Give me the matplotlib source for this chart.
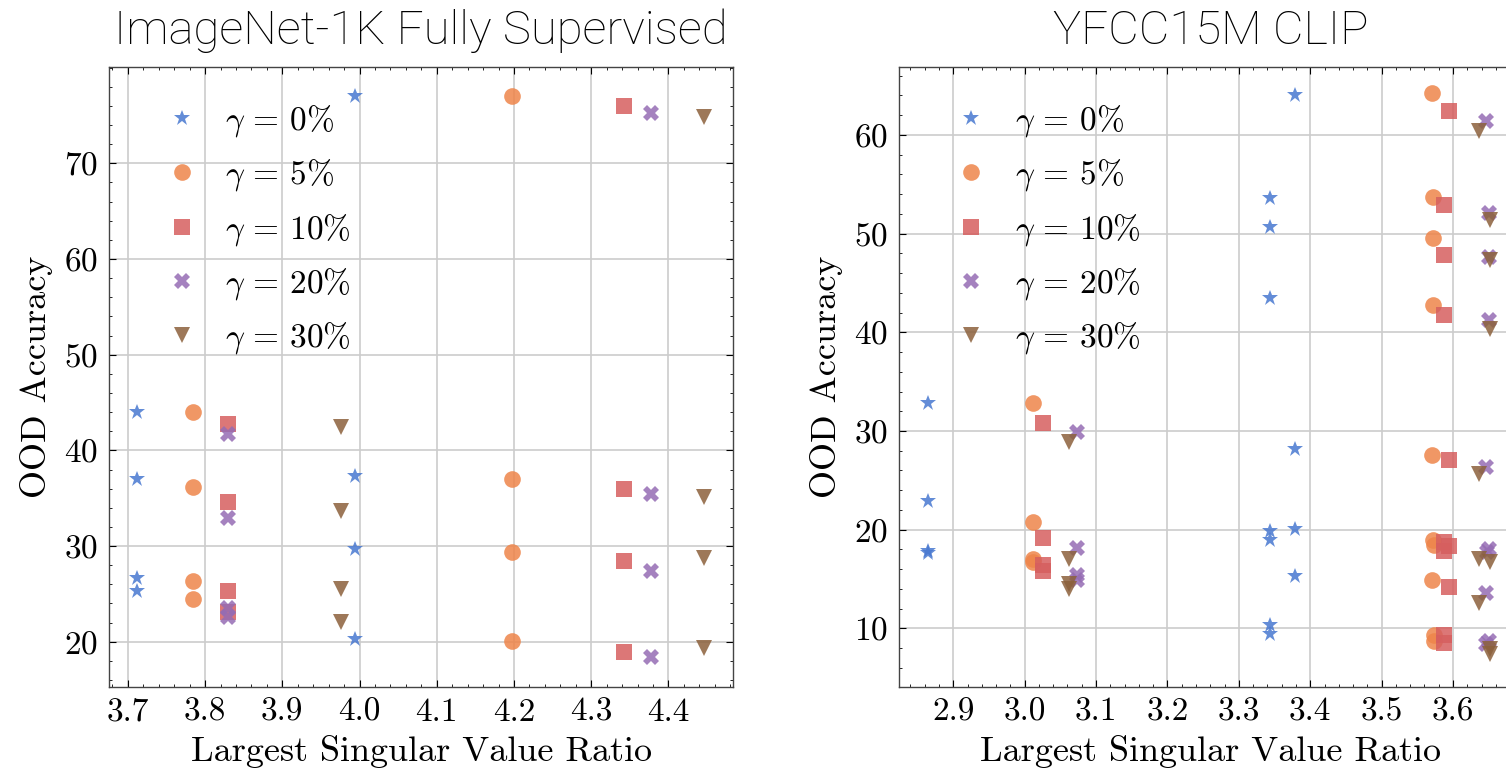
import matplotlib
matplotlib.use("Agg")
import matplotlib.pyplot as plt
from matplotlib.ticker import MultipleLocator

# ---------------- data ----------------
gammas = ["0%", "5%", "10%", "20%", "30%"]
colors = ["#4878D0", "#EE854A", "#D65F5F", "#956CB4", "#8C613C"]
markers = ["*", "o", "s", "X", "v"]

# ImageNet-1K Fully Supervised
in_x = {
    "0%":  [3.712, 3.712, 3.712, 3.712, 3.994, 3.994, 3.994, 3.994],
    "5%":  [3.785, 3.785, 3.785, 3.785, 4.197, 4.197, 4.197, 4.197],
    "10%": [3.830, 3.830, 3.830, 3.830, 4.342, 4.342, 4.342, 4.342],
    "20%": [3.830, 3.830, 3.830, 3.830, 4.378, 4.378, 4.378, 4.378],
    "30%": [3.976, 3.976, 3.976, 3.976, 4.446, 4.446, 4.446, 4.446],
}
in_y = {
    "0%":  [44.0, 37.0, 26.7, 25.3, 77.0, 37.3, 29.7, 20.3],
    "5%":  [44.0, 36.2, 26.3, 24.5, 77.0, 37.0, 29.4, 20.1],
    "10%": [42.8, 34.6, 25.3, 23.1, 76.0, 36.0, 28.4, 18.9],
    "20%": [41.7, 32.9, 23.5, 22.6, 75.3, 35.4, 27.4, 18.4],
    "30%": [42.4, 33.7, 25.5, 22.1, 74.8, 35.1, 28.7, 19.3],
}

# YFCC15M CLIP
yf_x = {
    "0%":  [2.865, 2.865, 2.865, 2.865,
            3.344, 3.344, 3.344, 3.344, 3.344, 3.344, 3.344,
            3.379, 3.379, 3.379, 3.379],
    "5%":  [3.011, 3.011, 3.011, 3.011,
            3.570, 3.572, 3.572, 3.572, 3.570, 3.572, 3.574, 3.570, 3.574, 3.574],
    "10%": [3.025, 3.025, 3.025, 3.025,
            3.594, 3.588, 3.588, 3.588, 3.594, 3.588, 3.595, 3.588, 3.594, 3.588, 3.588],
    "20%": [3.073, 3.073, 3.073, 3.073,
            3.646, 3.650, 3.650, 3.650, 3.646, 3.650, 3.648, 3.646, 3.650, 3.646],
    "30%": [3.062, 3.062, 3.062, 3.062,
            3.637, 3.652, 3.652, 3.652, 3.637, 3.637, 3.652, 3.637, 3.652, 3.652],
}
yf_y = {
    "0%":  [32.8, 22.9, 17.8, 17.6,
            53.6, 50.7, 43.5, 19.9, 19.0, 10.4, 9.4,
            64.0, 28.2, 20.1, 15.3],
    "5%":  [32.8, 20.8, 17.0, 16.7,
            64.2, 53.7, 49.5, 42.8, 27.6, 19.0, 18.5, 14.9, 9.3, 8.7],
    "10%": [30.8, 19.2, 16.4, 15.8,
            62.4, 52.9, 47.8, 41.7, 27.1, 18.8, 18.4, 17.8, 14.2, 9.3, 8.5],
    "20%": [29.9, 18.1, 15.4, 14.9,
            61.4, 52.1, 47.6, 41.2, 26.4, 18.0, 17.7, 13.6, 8.7, 8.4],
    "30%": [28.9, 17.0, 14.5, 14.0,
            60.4, 51.4, 47.3, 40.3, 25.6, 17.0, 16.7, 12.6, 7.9, 7.4],
}

in_xticks = [3.7, 3.8, 3.9, 4.0, 4.1, 4.2, 4.3, 4.4]
in_yticks = [20, 30, 40, 50, 60, 70]
yf_xticks = [2.9, 3.0, 3.1, 3.2, 3.3, 3.4, 3.5, 3.6]
yf_yticks = [10, 20, 30, 40, 50, 60]

titles = ["ImageNet-1K Fully Supervised", "YFCC15M CLIP"]
xlabel = "Largest Singular Value Ratio"
ylabel = "OOD Accuracy"

# ---------------- style ----------------
plt.rcParams.update({
    "font.family": "serif",
    "font.serif": ["cmr10"],
    "mathtext.fontset": "cm",
    "axes.formatter.use_mathtext": True,
    "xtick.direction": "in",
    "ytick.direction": "in",
    "xtick.top": True,
    "ytick.right": True,
    "xtick.minor.visible": True,
    "ytick.minor.visible": True,
    "xtick.major.size": 5,
    "ytick.major.size": 5,
    "xtick.minor.size": 2.5,
    "ytick.minor.size": 2.5,
    "xtick.major.width": 0.8,
    "ytick.major.width": 0.8,
    "xtick.minor.width": 0.6,
    "ytick.minor.width": 0.6,
    "axes.linewidth": 1.0,
    "axes.edgecolor": "#444444",
})

FS = 24
W, H = 1506, 776
fig = plt.figure(figsize=(W / 100, H / 100), dpi=100)

ax_h = (686.7 - 66.7) / H
ax_b = (H - 686.7) / H
ax_w = 624 / W
ax1 = fig.add_axes([109.3 / W, ax_b, ax_w, ax_h])
ax2 = fig.add_axes([899.0 / W, ax_b, ax_w, ax_h])

ms = {"*": 12, "o": 12, "s": 11, "X": 12, "v": 12}

def draw(ax, xs, ys, xlim, ylim, xticks, yticks, title):
    for g, c, m in zip(gammas, colors, markers):
        ax.plot(xs[g], ys[g], linestyle="none", marker=m, color=c,
                markersize=ms[m], markeredgewidth=0, alpha=0.85,
                label=r"$\gamma\,=\,%s$" % g.replace("%", r"\%"))
    ax.set_xlim(*xlim)
    ax.set_ylim(*ylim)
    ax.set_xticks(xticks)
    ax.set_yticks(yticks)
    ax.set_xticklabels(["%.1f" % t for t in xticks])
    ax.xaxis.set_minor_locator(MultipleLocator(0.02))
    ax.yaxis.set_minor_locator(MultipleLocator(2))
    ax.grid(True, which="major", color="#cccccc", linewidth=1.2)
    ax.set_axisbelow(True)
    ax.tick_params(labelsize=FS, pad=8)
    ax.set_xlabel(xlabel, fontsize=FS + 2, labelpad=6)
    ax.set_ylabel(ylabel, fontsize=FS + 2, labelpad=8)
    ax.set_title(title, fontsize=34, family=["Roboto", "Liberation Sans"],
                 fontweight="light", pad=16)
    ax.legend(loc="upper left", frameon=False, fontsize=FS,
              handletextpad=0.5, labelspacing=0.55,
              borderaxespad=0.6, handlelength=1.6,
              bbox_to_anchor=(0.02, 0.995))

draw(ax1, in_x, in_y, (3.676, 4.484), (15.3, 80.1), in_xticks, in_yticks, titles[0])
draw(ax2, yf_x, yf_y, (2.824, 3.698), (4.1, 66.9), yf_xticks, yf_yticks, titles[1])

fig.savefig("out.png", dpi=100)
